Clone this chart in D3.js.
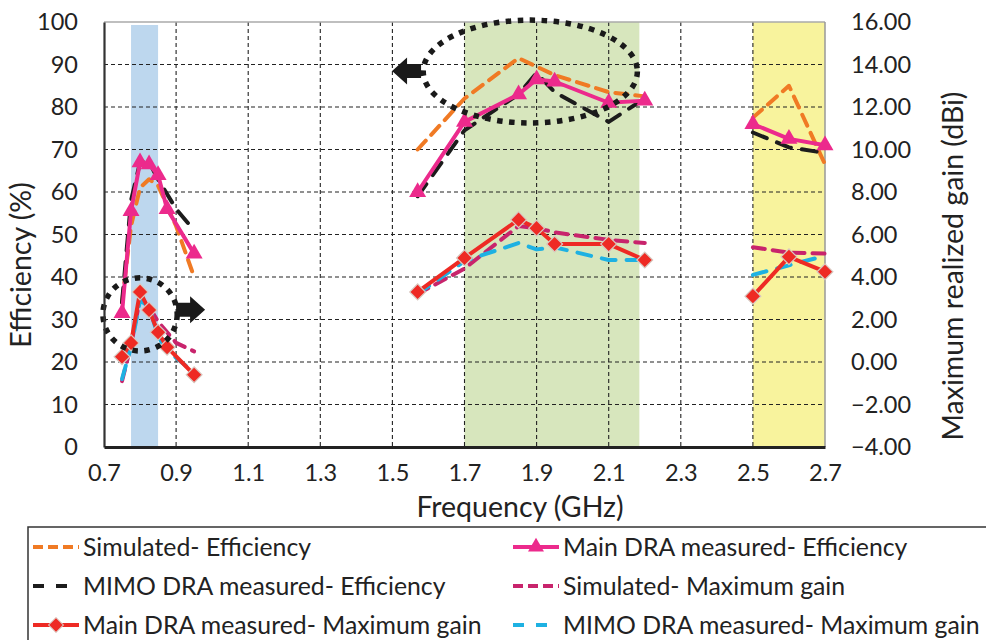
<!DOCTYPE html>
<html>
<head>
<meta charset="utf-8">
<script src="https://cdn.jsdelivr.net/npm/d3@7"></script>
<style>
  body { margin: 0; background: #fff; }
  svg { font-family: Lato, "Open Sans", sans-serif; }
</style>
</head>
<body>
<div id="chart"></div>
<script>
// frequencies (GHz) of all the samples, grouped in three bands
var freqs = [0.75, 0.775, 0.8, 0.825, 0.85, 0.875, 0.9, 0.95,
             1.57, 1.7, 1.85, 1.9, 1.95, 2.1, 2.2,
             2.5, 2.6, 2.7];
var bandOf = [0, 0, 0, 0, 0, 0, 0, 0, 1, 1, 1, 1, 1, 1, 1, 2, 2, 2];

// efficiency (%) - left axis
var simEff  = [34, 52, 61, 63, 61.5, null, 52, 40,   70, 82, 91.5, 89.5, 87.5, 83.5, 82.5,   77.5, 85, 66.5];
var mainEff = [31.5, 55.5, 67, 66.5, 64, 56, null, 45.5,   60, 76.5, 83, 86.5, 86, 81, 81.5,   76, 72.5, 71];
var mimoEff = [34, 58, 67, 67, 63, null, 56, 51,   59, 74.5, 83, 88, 83.5, 76.5, 82,   74, 70.5, 69.2];

// maximum realized gain (dBi) - right axis
var simGain  = [-0.9, 0.8, 3.0, 2.6, 1.9, null, 0.9, 0.5,   3.2, 4.4, 6.4, 6.3, 6.1, 5.75, 5.6,   5.4, 5.15, 5.1];
var mainGain = [0.25, 0.9, 3.3, 2.45, 1.4, 0.7, null, -0.6,   3.3, 4.9, 6.7, 6.3, 5.55, 5.55, 4.8,   3.1, 4.95, 4.25];
var mimoGain = [-0.8, 0.7, 2.9, 2.6, 1.2, 0.55, null, -0.5,   3.2, 4.75, 5.6, 5.3, 5.4, 4.8, 4.8,   4.1, 4.55, 5.0];

var freqTicks = [0.7, 0.9, 1.1, 1.3, 1.5, 1.7, 1.9, 2.1, 2.3, 2.5, 2.7];
var effTicks  = [0, 10, 20, 30, 40, 50, 60, 70, 80, 90, 100];
var gainTicks = [-4, -2, 0, 2, 4, 6, 8, 10, 12, 14, 16];

// shaded operating bands (GHz)
var shadeStart = [0.775, 1.7, 2.5];
var shadeEnd   = [0.85, 2.185, 2.7];

// highlighted groups: centre freq, centre efficiency, radius (GHz, %)
var ringF  = [0.8, 1.8825];
var ringE  = [31.2, 88.35];
var ringRF = [0.103, 0.297];
var ringRE = [8.6, 12.1];

var legendNames = ["Simulated- Efficiency", "Main DRA measured- Efficiency",
                   "MIMO DRA measured- Efficiency", "Simulated- Maximum gain",
                   "Main DRA measured- Maximum gain", "MIMO DRA measured- Maximum gain"];

var width = 986, height = 640;
var svg = d3.select("#chart").append("svg").attr("width", width).attr("height", height);

var x = d3.scaleLinear().domain([0.7, 2.7]).range([104, 825]);
var y = d3.scaleLinear().domain([0, 100]).range([447, 22]);
var y2 = d3.scaleLinear().domain([-4, 16]).range([447, 22]);

// shaded bands
var shadeColors = ["#bdd7ee", "#d7e6bd", "#f8f39d"];
svg.append("g").selectAll("rect")
    .data(shadeStart)
    .enter().append("rect")
        .attr("x", (d, i) => x(d))
        .attr("width", (d, i) => x(shadeEnd[i]) - x(d))
        .attr("y", (d, i) => i == 0 ? y(99.3) : y(100))
        .attr("height", (d, i) => i == 0 ? y(0) - y(99.3) : y(0) - y(100))
        .style("fill", (d, i) => shadeColors[i]);

// grid
var grid = svg.append("g").attr("class", "grid");
grid.selectAll(".hg")
    .data(effTicks.filter(d => d > 0 && d < 100))
    .enter().append("line")
        .attr("x1", x(0.7)).attr("x2", x(2.7))
        .attr("y1", d => y(d)).attr("y2", d => y(d))
        .style("stroke", "#222").style("stroke-width", 1.1).style("stroke-dasharray", "4,3");
grid.selectAll(".vg")
    .data(freqTicks.filter(d => d > 0.7 && d < 2.7))
    .enter().append("line")
        .attr("x1", d => x(d)).attr("x2", d => x(d))
        .attr("y1", y(100)).attr("y2", y(0))
        .style("stroke", "#222").style("stroke-width", 1.1).style("stroke-dasharray", "4,3");
// frame: light top and right, dark left and bottom
svg.append("line").attr("x1", x(0.7)).attr("x2", x(2.7)).attr("y1", y(100)).attr("y2", y(100))
    .style("stroke", "#aaa").style("stroke-width", 1.5);
svg.append("line").attr("x1", x(2.7)).attr("x2", x(2.7)).attr("y1", y(100)).attr("y2", y(0))
    .style("stroke", "#999").style("stroke-width", 1.5);

// series
function pts(vals) {
    var groups = [[], [], []];
    vals.forEach((v, i) => { if (v != null) groups[bandOf[i]].push([freqs[i], v]); });
    return groups;
}
var lineL = d3.line().x(d => x(d[0])).y(d => y(d[1]));
var lineR = d3.line().x(d => x(d[0])).y(d => y2(d[1]));

var series = [
    { vals: simGain,  line: lineR, color: "#c8246c", dash: "12,8" },
    { vals: mimoGain, line: lineR, color: "#1eb1e2", dash: "14,11" },
    { vals: mainGain, line: lineR, color: "#ee2a24", dash: null, marker: "diamond" },
    { vals: simEff,   line: lineL, color: "#f07a24", dash: "12,8" },
    { vals: mimoEff,  line: lineL, color: "#1c1c1c", dash: "15,11" },
    { vals: mainEff,  line: lineL, color: "#ec2a8c", dash: null, marker: "triangle" }
];

var plot = svg.append("g").attr("class", "series");
series.forEach(s => {
    var g = plot.append("g");
    g.selectAll("path")
        .data(pts(s.vals))
        .enter().append("path")
            .attr("d", s.line)
            .style("fill", "none")
            .style("stroke", s.color)
            .style("stroke-width", 4)
            .style("stroke-linecap", s.dash ? "round" : "butt")
            .style("stroke-linejoin", "round")
            .style("stroke-dasharray", s.dash);
    if (s.marker) {
        var all = [].concat.apply([], pts(s.vals));
        var yy = s.line === lineL ? y : y2;
        g.selectAll(".m")
            .data(all)
            .enter().append("path")
                .attr("transform", d => "translate(" + x(d[0]) + "," + yy(d[1]) + ")" + (s.marker == "diamond" ? " rotate(45)" : ""))
                .attr("d", s.marker == "diamond" ? d3.symbol(d3.symbolSquare, 125)() : d3.symbol(d3.symbolTriangle, 125)())
                .style("fill", s.color)
                .style("stroke", s.marker == "diamond" ? "#d8c8c0" : "none")
                .style("stroke-width", 1.2);
    }
});

// dotted rings and arrows
var ann = svg.append("g").attr("class", "annot");
ann.selectAll("ellipse")
    .data(ringF)
    .enter().append("ellipse")
        .attr("cx", d => x(d))
        .attr("cy", (d, i) => y(ringE[i]))
        .attr("rx", (d, i) => x(d + ringRF[i]) - x(d))
        .attr("ry", (d, i) => y(0) - y(ringRE[i]))
        .style("fill", "none")
        .style("stroke", "#1a1a1a")
        .style("stroke-width", 5.5)
        .style("stroke-dasharray", "5.5,6.5");

function blockArrow(x0, yc, dir) {
    // x0: tail, pointing dir (+1 right, -1 left)
    var len = 29, headLen = 15, bodyH = 7, headH = 13.5;
    var xb = x0 + dir * (len - headLen), xt = x0 + dir * len;
    return "M" + x0 + "," + (yc - bodyH) + "L" + xb + "," + (yc - bodyH) + "L" + xb + "," + (yc - headH) +
        "L" + xt + "," + yc + "L" + xb + "," + (yc + headH) + "L" + xb + "," + (yc + bodyH) +
        "L" + x0 + "," + (yc + bodyH) + "Z";
}
ann.append("path").attr("d", blockArrow(x(0.9), y(32.3), 1)).style("fill", "#1a1a1a");
ann.append("path").attr("d", blockArrow(x(1.5795), y(88.5), -1)).style("fill", "#1a1a1a");

// axes
var fs = "23.5px", fsTitle = "28.5px", fsLeg = "24.8px";
var axL = svg.append("g").attr("transform", "translate(" + x(0.7) + ",0)")
    .call(d3.axisLeft(y).tickValues(effTicks).tickSize(0).tickPadding(26));
axL.select(".domain").style("stroke", "#333").style("stroke-width", 2.2);
var axB = svg.append("g").attr("transform", "translate(0," + y(0) + ")")
    .call(d3.axisBottom(x).tickValues(freqTicks).tickSize(0).tickPadding(17).tickFormat(d3.format(".1f")));
axB.select(".domain").style("stroke", "#222").style("stroke-width", 3);
var axR = svg.append("g").attr("transform", "translate(" + x(2.7) + ",0)")
    .call(d3.axisRight(y2).tickValues(gainTicks).tickSize(0).tickPadding(26).tickFormat(d3.format(".2f")));
axR.select(".domain").remove();
svg.selectAll(".tick text").style("font-size", fs).style("fill", "#222").style("font-family", "Lato, sans-serif");

// axis titles
svg.append("text").attr("x", 520).attr("y", 517).attr("text-anchor", "middle")
    .style("font-size", fsTitle).style("fill", "#222").text("Frequency (GHz)");
svg.append("text").attr("transform", "translate(31,265) rotate(-90)").attr("text-anchor", "middle")
    .style("font-size", fsTitle).style("fill", "#222").text("Efficiency (%)");
svg.append("text").attr("transform", "translate(963,266) rotate(-90)").attr("text-anchor", "middle")
    .style("font-size", fsTitle).style("fill", "#222").text("Maximum realized gain (dBi)");

// legend
var lg = svg.append("g").attr("class", "legend");
lg.append("rect").attr("x", 28).attr("y", 527).attr("width", 980).attr("height", 140)
    .style("fill", "#fff").style("stroke", "#333").style("stroke-width", 1.5);
var legStyle = [series[3], series[5], series[4], series[0], series[2], series[1]];
var colX = [33, 513], rowY = [547, 586, 625];
legendNames.forEach((name, i) => {
    var s = legStyle[i];
    var lx = colX[i % 2], ly = rowY[Math.floor(i / 2)];
    var g = lg.append("g").attr("transform", "translate(" + lx + "," + ly + ")");
    g.append("line").attr("x1", 0).attr("x2", 46).attr("y1", 0).attr("y2", 0)
        .style("stroke", s.color).style("stroke-width", 4)
        .style("stroke-dasharray", s.dash ? (s.dash == "12,8" ? "10,5" : "11,12") : null);
    if (s.marker == "triangle")
        g.append("path").attr("d", d3.symbol(d3.symbolTriangle, 110)()).attr("transform", "translate(23,0)").style("fill", s.color);
    if (s.marker == "diamond")
        g.append("path").attr("d", d3.symbol(d3.symbolSquare, 110)()).attr("transform", "translate(23,0) rotate(45)")
            .style("fill", s.color).style("stroke", "#d8c8c0");
    g.append("text").attr("x", 50).attr("y", 9).style("font-size", fsLeg).style("fill", "#222").text(name);
});
</script>
</body>
</html>
